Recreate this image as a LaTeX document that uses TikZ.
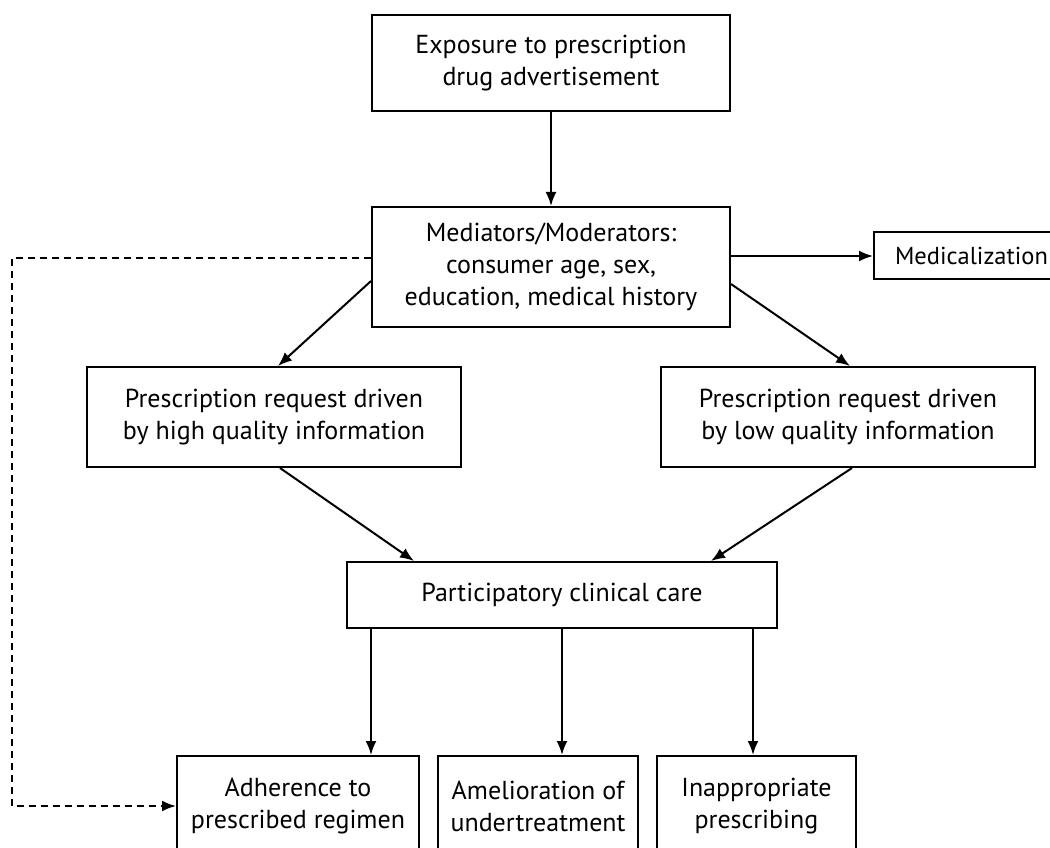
\documentclass[tikz,border=0pt]{standalone}
\usepackage{fontspec}
\setmainfont{PT Sans}
\usetikzlibrary{arrows.meta,calc}

\begin{document}
\begin{tikzpicture}[
x=1pt, y=-1pt,
box/.style={draw=black, line width=2pt, fill=white, align={center}, inner sep=0pt,
  font=\fontsize{26}{32}\selectfont},
link/.style={line width=2pt, -{Latex[length=14pt,width=11pt]}},
dashlink/.style={link, dash pattern=on 7pt off 5pt}
]
\useasboundingbox[fill=white] (0,0) rectangle (1050,848);
\node[box, minimum width=358pt, minimum height=96pt] (exposure) at (551,63) {
    Exposure to prescription\\
    drug advertisement
};
\node[box, minimum width=358pt, minimum height=120pt] (mediators) at (551,267) {
    Mediators/Moderators:\\
    consumer age, sex,\\
    education, medical history
};
\node[box, anchor=west, minimum width=195pt, minimum height=47pt, inner xsep=10pt, align=left,
  font=\fontsize{24.5}{30}\selectfont] (medicalization) at (873,255.5) {Medicalization};
\node[box, minimum width=374pt, minimum height=100pt] (highq) at (274,417) {
    Prescription request driven\\
    by high quality information
};
\node[box, minimum width=374pt, minimum height=100pt] (lowq) at (848,417) {
    Prescription request driven\\
    by low quality information
};
\node[box, minimum width=430pt, minimum height=66pt] (care) at (562,595) {Participatory clinical care};
\node[box, minimum width=242pt, minimum height=100pt] (adherence) at (298,806) {
    Adherence to\\
    prescribed regimen
};
\node[box, minimum width=200pt, minimum height=100pt] (amelioration) at (538,806) {
    Amelioration of\\
    undertreatment
};
\node[box, minimum width=199pt, minimum height=100pt] (inappropriate) at (756.5,806) {
    Inappropriate\\
    prescribing
};
\coordinate (medout) at ([yshift=11pt]mediators.east);
\draw[link] (exposure.south) -- (exposure.south |- mediators.north);
\draw[link] (medout) -- (medout -| medicalization.west);
\draw[link] ([yshift=47pt]mediators.south west) -- ([xshift=4pt]highq.north);
\draw[link] ([yshift=44pt]mediators.south east) -- ([xshift=2pt]lowq.north);
\draw[link] ([xshift=6pt]highq.south) -- ([xshift=68pt]care.north west);
\draw[link] ([xshift=4pt]lowq.south) -- ([xshift=-67pt]care.north east);
\draw[link] ([xshift=25pt]care.south west) -- ([xshift=25pt]care.south west |- adherence.north);
\draw[link] (care.south) -- (care.south |- amelioration.north);
\draw[link] ([xshift=-25pt]care.south east) -- ([xshift=-25pt]care.south east |- inappropriate.north);
\draw[dashlink] ([yshift=9pt]mediators.west) -- ++(-359pt,0) |- (adherence.west);
\end{tikzpicture}
\end{document}
